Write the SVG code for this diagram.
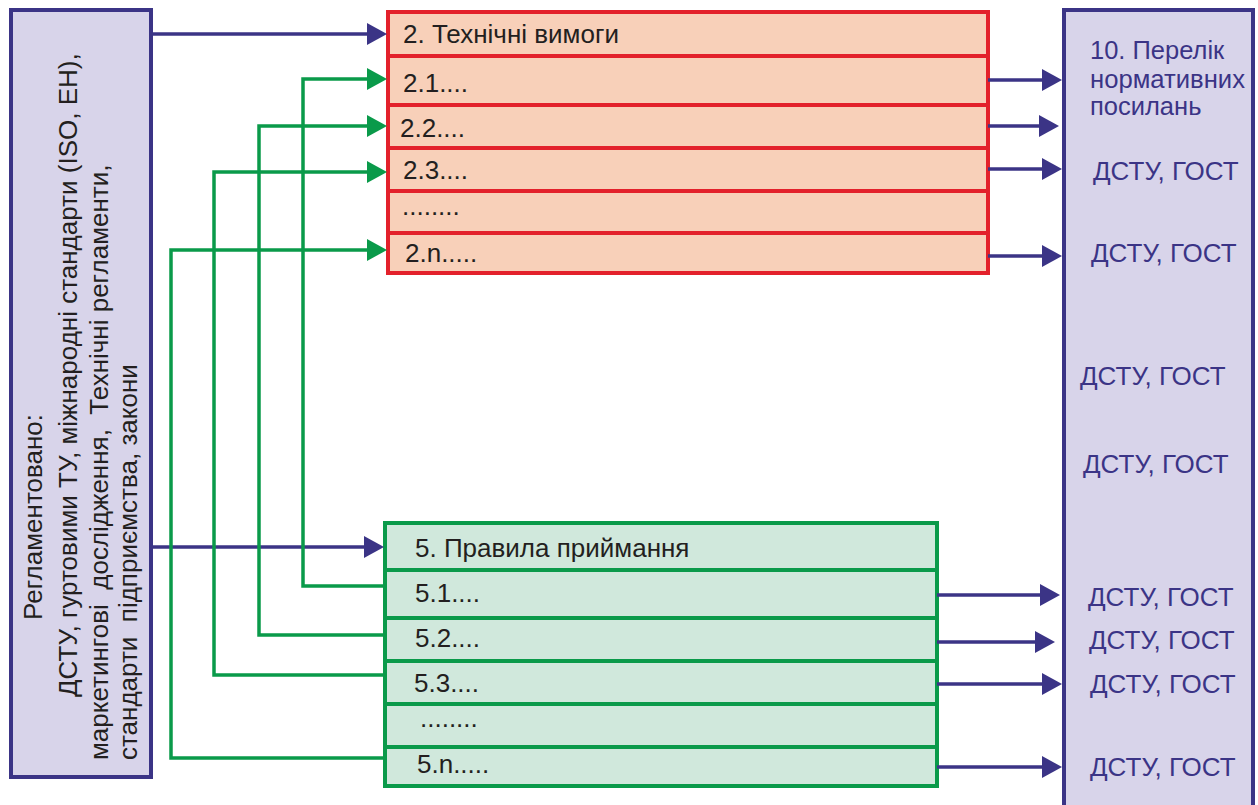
<svg xmlns="http://www.w3.org/2000/svg" width="1258" height="805" viewBox="0 0 1258 805">
<defs>
<style>
text{font-family:"Liberation Sans",Arial,sans-serif;font-size:26px;white-space:pre}
.bt{fill:#231f20}
.rt{fill:#3b3486}
.hd{font-size:25.5px}
.blue{fill:#d8d4ea;stroke:#3b3486;stroke-width:4}
.red{fill:#f8d0b9;stroke:#e3212b;stroke-width:4}
.redl{stroke:#e3212b;stroke-width:4}
.grn{fill:#d0e8dc;stroke:#0a9a4a;stroke-width:4}
.grnl{stroke:#0a9a4a;stroke-width:4}
.cb{fill:none;stroke:#3b3486;stroke-width:3.5}
.cg{fill:none;stroke:#0a9a4a;stroke-width:3.5}
</style>
<marker id="ab" viewBox="0 0 20 22" refX="10" refY="11" markerWidth="20" markerHeight="22" markerUnits="userSpaceOnUse" orient="auto"><path d="M0,0 L20,11 L0,22 z" fill="#3b3486"/></marker>
<marker id="ag" viewBox="0 0 20 22" refX="10" refY="11" markerWidth="20" markerHeight="22" markerUnits="userSpaceOnUse" orient="auto"><path d="M0,0 L20,11 L0,22 z" fill="#0a9a4a"/></marker>
</defs>
<rect width="1258" height="805" fill="#ffffff"/>

<g id="left">
<rect class="blue" x="11" y="10" width="140" height="767"/>
<text class="bt" transform="translate(42,620) rotate(-90)">Регламентовано:</text>
<text class="bt" transform="translate(77,697) rotate(-90)">ДСТУ, гуртовими ТУ, міжнародні стандарти (ISO, ЕН),</text>
<text class="bt" transform="translate(108,760) rotate(-90)">маркетингові  дослідження,  Технічні регламенти,</text>
<text class="bt" transform="translate(137,760) rotate(-90)">стандарти  підприємства, закони</text>
</g>

<g id="right">
<rect class="blue" x="1064" y="10" width="189" height="820"/>
<text class="rt hd" x="1090" y="59">10. Перелік</text>
<text class="rt hd" x="1090" y="88" textLength="155" lengthAdjust="spacingAndGlyphs">нормативних</text>
<text class="rt hd" x="1090" y="115">посилань</text>
<text class="rt" x="1093" y="180">ДСТУ, ГОСТ</text>
<text class="rt" x="1091" y="262">ДСТУ, ГОСТ</text>
<text class="rt" x="1080" y="385">ДСТУ, ГОСТ</text>
<text class="rt" x="1083" y="473">ДСТУ, ГОСТ</text>
<text class="rt" x="1088" y="606">ДСТУ, ГОСТ</text>
<text class="rt" x="1089" y="649">ДСТУ, ГОСТ</text>
<text class="rt" x="1090" y="693">ДСТУ, ГОСТ</text>
<text class="rt" x="1090" y="776">ДСТУ, ГОСТ</text>
</g>

<g id="tech">
<rect class="red" x="388" y="12" width="600" height="261"/>
<line class="redl" x1="388" y1="56" x2="988" y2="56"/>
<line class="redl" x1="388" y1="105" x2="988" y2="105"/>
<line class="redl" x1="388" y1="148" x2="988" y2="148"/>
<line class="redl" x1="388" y1="191" x2="988" y2="191"/>
<line class="redl" x1="388" y1="233" x2="988" y2="233"/>
<text class="bt" x="403" y="43">2. Технічні вимоги</text>
<text class="bt" x="403" y="92">2.1....</text>
<text class="bt" x="400" y="137">2.2....</text>
<text class="bt" x="403" y="179">2.3....</text>
<text class="bt" x="402" y="215">........</text>
<text class="bt" x="405" y="262">2.n.....</text>
</g>

<g id="accept">
<rect class="grn" x="385" y="523" width="552" height="263"/>
<line class="grnl" x1="385" y1="570" x2="937" y2="570"/>
<line class="grnl" x1="385" y1="618" x2="937" y2="618"/>
<line class="grnl" x1="385" y1="661" x2="937" y2="661"/>
<line class="grnl" x1="385" y1="704" x2="937" y2="704"/>
<line class="grnl" x1="385" y1="747" x2="937" y2="747"/>
<text class="bt" x="415" y="557">5. Правила приймання</text>
<text class="bt" x="415" y="602">5.1....</text>
<text class="bt" x="415" y="647">5.2....</text>
<text class="bt" x="414" y="692">5.3....</text>
<text class="bt" x="420" y="727">........</text>
<text class="bt" x="417" y="773">5.n.....</text>
</g>

<g id="connectors">
<line class="cb" x1="151" y1="34" x2="377" y2="34" marker-end="url(#ab)"/>
<line class="cb" x1="151" y1="547" x2="374" y2="547" marker-end="url(#ab)"/>
<line class="cb" x1="988" y1="80" x2="1052" y2="80" marker-end="url(#ab)"/>
<line class="cb" x1="988" y1="126" x2="1049" y2="126" marker-end="url(#ab)"/>
<line class="cb" x1="988" y1="169" x2="1052" y2="169" marker-end="url(#ab)"/>
<line class="cb" x1="988" y1="256" x2="1052" y2="256" marker-end="url(#ab)"/>
<line class="cb" x1="937" y1="595" x2="1050" y2="595" marker-end="url(#ab)"/>
<line class="cb" x1="937" y1="642" x2="1045" y2="642" marker-end="url(#ab)"/>
<line class="cb" x1="937" y1="684" x2="1052" y2="684" marker-end="url(#ab)"/>
<line class="cb" x1="937" y1="767" x2="1052" y2="767" marker-end="url(#ab)"/>
<polyline class="cg" points="385,586 303,586 303,79 377,79" marker-end="url(#ag)"/>
<polyline class="cg" points="385,635 259,635 259,126 377,126" marker-end="url(#ag)"/>
<polyline class="cg" points="385,675 214,675 214,172 377,172" marker-end="url(#ag)"/>
<polyline class="cg" points="385,758 171,758 171,250 377,250" marker-end="url(#ag)"/>
</g>
</svg>
